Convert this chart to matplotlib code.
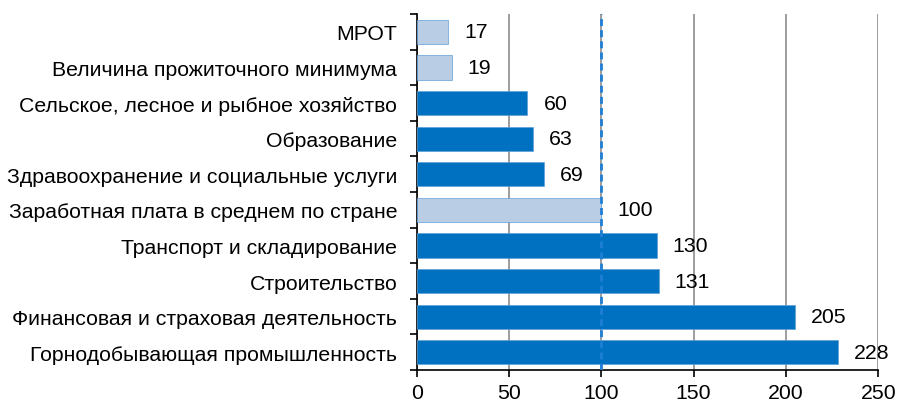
import matplotlib
matplotlib.use("Agg")
import matplotlib.pyplot as plt
import numpy as np

categories = [
    "МРОТ",
    "Величина прожиточного минимума",
    "Сельское, лесное и рыбное хозяйство",
    "Образование",
    "Здравоохранение и социальные услуги",
    "Заработная плата в среднем по стране",
    "Транспорт и складирование",
    "Строительство",
    "Финансовая и страховая деятельность",
    "Горнодобывающая промышленность",
]
values = [17, 19, 60, 63, 69, 100, 130, 131, 205, 228]
highlight = [True, True, False, False, False, True, False, False, False, False]
reference_level = 100
xticks = [0, 50, 100, 150, 200, 250]

dark = "#0070C0"
light = "#B9CDE5"
fs = 15.3

plt.rcParams['font.family'] = ['Liberation Sans', 'DejaVu Sans']
fig = plt.figure(figsize=(8.98, 4.06), dpi=100)
ax = fig.add_axes([0.464, 0.086, 0.514, 0.877])

y = np.arange(len(categories))
colors = [light if h else dark for h in highlight]
ax.barh(y, values, height=0.68, color=colors, edgecolor="#5fa0d8", linewidth=0.5, zorder=3)
for yi, v in zip(y, values):
    ax.annotate(str(v), (v, yi), xytext=(16, 0), textcoords="offset pixels",
                va="center", ha="left", fontsize=fs, color="black")

ax.set_ylim(len(categories) - 0.5, -0.5)
ax.set_xlim(0, 250)
ax.set_xticks(xticks)
ax.set_xticklabels([str(t) for t in xticks], fontsize=fs)
ax.set_yticks(y)
ax.set_yticklabels(categories, fontsize=fs)
ax.tick_params(axis="y", which="major", length=0, pad=14)
ax.set_yticks(np.arange(-0.5, len(categories)), minor=True)
ax.tick_params(axis="y", which="minor", length=5, width=1.2, direction="out", color="black")
ax.tick_params(axis="x", which="major", length=5, width=1.2, direction="out", color="black", pad=4)

ax.grid(axis="x", color="#8c8c8c", linewidth=1.2, zorder=0)
ax.axvline(reference_level, color="#1f7fd4", linestyle=(0, (2.5, 1.5)), linewidth=2.0, zorder=4)

for s in ["top", "right"]:
    ax.spines[s].set_visible(False)
ax.spines["left"].set_linewidth(1.2)
ax.spines["bottom"].set_linewidth(1.2)

fig.savefig("out.png", dpi=100)
